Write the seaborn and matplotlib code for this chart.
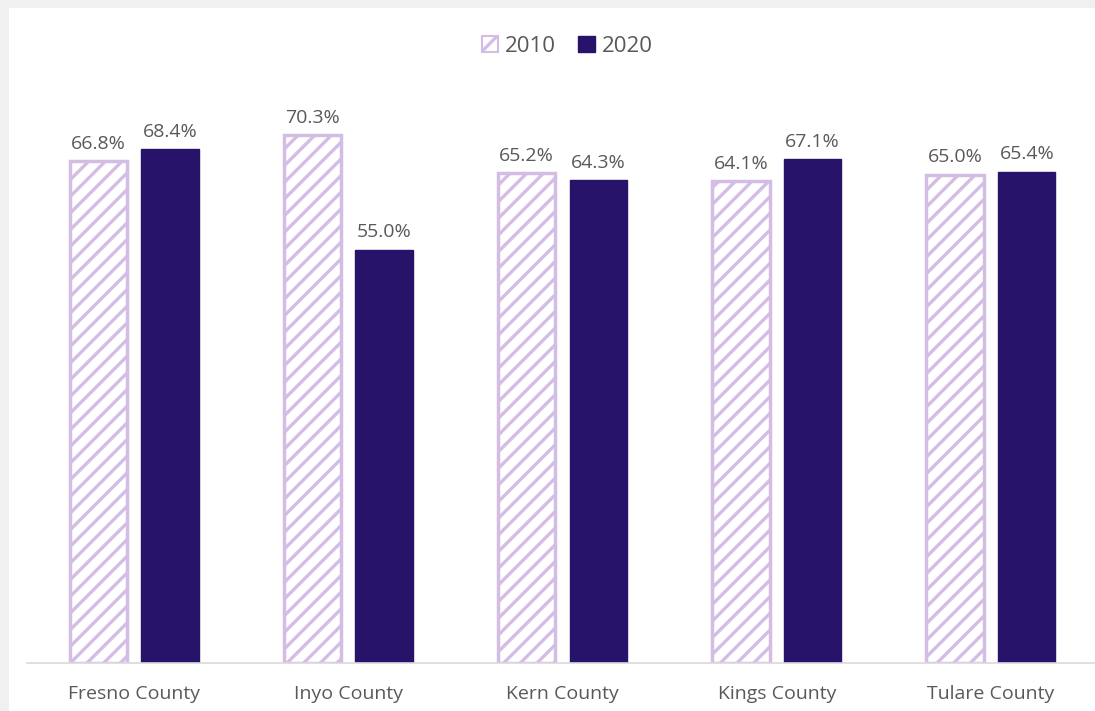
import matplotlib
matplotlib.use("Agg")
import matplotlib.pyplot as plt
import matplotlib.patches as mpatches
import seaborn as sns
import pandas as pd

counties = ["Fresno County", "Inyo County", "Kern County", "Kings County", "Tulare County"]
years = ["2010", "2020"]
values_2010 = [66.8, 70.3, 65.2, 64.1, 65.0]
values_2020 = [68.4, 55.0, 64.3, 67.1, 65.4]

light = "#D4BDE4"
dark = "#27136A"
text_col = "#595959"

df = pd.DataFrame({
    "county": counties * 2,
    "year": [years[0]] * len(counties) + [years[1]] * len(counties),
    "value": values_2010 + values_2020,
})

sns.set_style("white")
plt.rcParams["font.family"] = ["Open Sans", "DejaVu Sans"]
plt.rcParams["hatch.color"] = light
plt.rcParams["hatch.linewidth"] = 2.4

fig = plt.figure(figsize=(10.95, 7.11), dpi=100, facecolor="#F0F0F0")
# white chart panel behind everything
fig.patches.append(mpatches.Rectangle((9 / 1095, 0), 1, 1 - 8 / 711,
                                      transform=fig.transFigure, facecolor="white",
                                      edgecolor="none", zorder=-10))
ax = fig.add_axes([27 / 1095, (711 - 663) / 711, (1098 - 27) / 1095, 601 / 711])
ax.set_facecolor("none")

sns.barplot(data=df, x="county", y="value", hue="year", order=counties,
            hue_order=years, palette=[light, dark], width=0.67, gap=0.2,
            legend=False, ax=ax)

n = len(counties)
for i, bar in enumerate(ax.patches[:2 * n]):
    if i < n:
        bar.set_facecolor("white")
        bar.set_edgecolor(light)
        bar.set_linewidth(2.5)
        bar.set_hatch("//")
    else:
        bar.set_facecolor(dark)
        bar.set_edgecolor(dark)

for container in ax.containers:
    ax.bar_label(container, labels=[f"{v:.1f}%" for v in container.datavalues],
                 padding=6, fontsize=14, color=text_col)

ax.set_ylim(0, 80)
ax.set_xlim(-0.5, 4.5)
ax.set_xlabel("")
ax.set_ylabel("")
ax.set_yticks([])
ax.tick_params(axis="x", length=0, pad=16, labelsize=14, labelcolor=text_col)
for side in ["left", "right", "top"]:
    ax.spines[side].set_visible(False)
ax.spines["bottom"].set_color("#D9D9D9")
ax.spines["bottom"].set_linewidth(1.2)

handles = [
    mpatches.Patch(facecolor="white", edgecolor=light, hatch="//", linewidth=1.5, label=years[0]),
    mpatches.Patch(facecolor=dark, edgecolor=dark, label=years[1]),
]
fig.legend(handles=handles, loc="center", bbox_to_anchor=(0.518, 1 - 46 / 711), ncol=2,
           frameon=False, fontsize=16, labelcolor=text_col, handlelength=0.75,
           handleheight=0.75, handletextpad=0.3, columnspacing=1.0)

fig.savefig("out.png", dpi=100, facecolor=fig.get_facecolor())
